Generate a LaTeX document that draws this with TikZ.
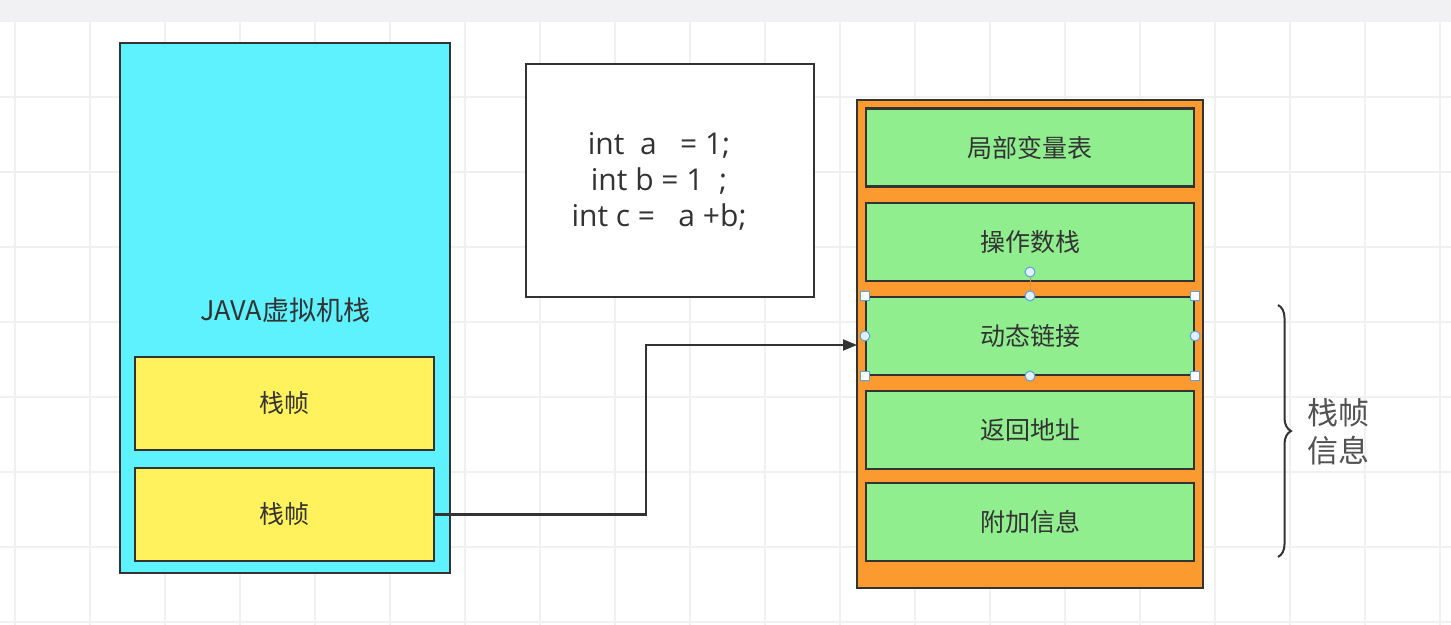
\documentclass[tikz,border=0pt]{standalone}
\usepackage{fontspec}
\setmainfont{Noto Sans CJK SC}
\newfontfamily\codefont{Open Sans}
\usetikzlibrary{calc,arrows.meta,decorations.pathreplacing}
\definecolor{stackcyan}{HTML}{5EF2FF}
\definecolor{frameyellow}{HTML}{FFF25C}
\definecolor{infoorange}{HTML}{FB9A2E}
\definecolor{partgreen}{HTML}{91EE8F}
\definecolor{boxline}{HTML}{333333}
\definecolor{gridgray}{HTML}{F0F0F0}
\definecolor{topbar}{HTML}{F1F1F3}
\definecolor{handleblue}{HTML}{5B9FE3}
\definecolor{handlefill}{HTML}{E3F0FF}

\begin{document}
\begin{tikzpicture}[
  x=0.5pt, y=-0.5pt,
  box/.style={draw=boxline, line width=1.1pt, rectangle, inner sep=0pt, text=boxline},
  frame/.style={box, fill=frameyellow, minimum width=149.5pt, minimum height=46.5pt, font=\fontsize{12.5}{14}\selectfont},
  part/.style={box, fill=partgreen, minimum width=164pt, minimum height=39pt, font=\fontsize{12.5}{14}\selectfont},
  handle/.style={circle, draw=handleblue, fill=handlefill, line width=0.5pt, inner sep=0pt, minimum size=5pt},
  corner/.style={rectangle, draw=handleblue, fill=white, line width=0.5pt, inner sep=0pt, minimum size=4.5pt}
  ]

\useasboundingbox (0,0) rectangle (1451,625);
\fill[white] (0,0) rectangle (1451,625);
% 배경 격자
\foreach \gx in {15,90,...,1440} \draw[gridgray, line width=0.6pt] (\gx,22) -- (\gx,625);
\foreach \gy in {97,172,...,622} \draw[gridgray, line width=0.6pt] (0,\gy) -- (1451,\gy);
\fill[topbar] (0,0) rectangle (1451,22);

% 가상머신 스택
\node[box, fill=stackcyan, minimum width=165pt, minimum height=265pt] (jvm) at (285,308) {};
\node[text=boxline, font=\fontsize{13.5}{14}\selectfont] (jvmlabel) at (285,310) {JAVA虚拟机栈};
\node[frame] (f1) at (284.5,403.5) {栈帧};
\node[frame] (f2) at (284.5,514.5) {栈帧};

% 코드
\node[box, fill=white, minimum width=144pt, minimum height=116.5pt] (code) at (670,180.5) {};
\node[align=center, text=boxline, font=\codefont\fontsize{15}{18}\selectfont] (codetext) at (659,181)
  {int\ \ a\ \ \ = 1;\\int b = 1\ \ ;\\int c =\ \ \ a +b;};

% 프레임 정보
\node[box, fill=infoorange, minimum width=173pt, minimum height=244pt] (info) at (1030,344) {};
\node[part] (lv) at (1030,147.5) {局部变量表};
\node[part] (ops) at (1030,242) {操作数栈};
\node[part] (dl) at (1030,336) {动态链接};
\node[part] (ret) at (1030,430) {返回地址};
\node[part] (ext) at (1030,522) {附加信息};

% 선택 핸들
\node[handle] (rot) at (1030,272) {};
\draw[infoorange!70!gray, line width=0.5pt] (rot) -- (dl.north);
\foreach \a in {north,south,east,west} \node[handle] at (dl.\a) {};
\foreach \a in {north east,north west,south east,south west} \node[corner] at (dl.\a) {};

% 화살표
\coordinate (tip) at (857,345);
\draw[boxline, line width=1.1pt, -{Triangle[length=7pt,width=5.5pt]}]
  (f2.east) -| ($(f2.east)!.5!(tip)$) |- (tip);

% 괄호
\coordinate (bt) at (1278,305);
\coordinate (bb) at (1278,557);
\draw[boxline, line width=1pt, decorate, decoration={brace, amplitude=6.5pt}] (bt) -- (bb);
\node[anchor=west, align=left, text=boxline!85, font=\fontsize{15.5}{19}\selectfont] (bracelabel) at (1300,432) {栈帧\\信息};

\end{tikzpicture}
\end{document}
